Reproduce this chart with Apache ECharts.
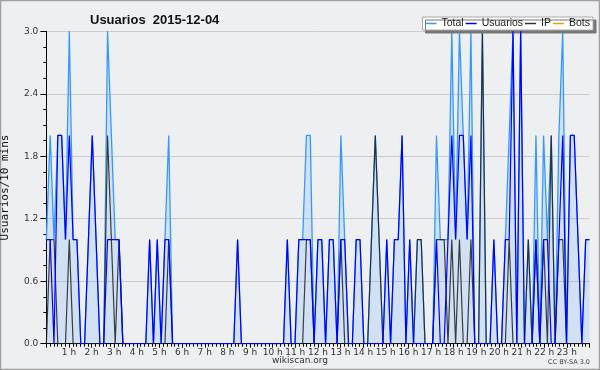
<!DOCTYPE html>
<html><head><meta charset="utf-8">
<script src="https://cdn.jsdelivr.net/npm/echarts@6/dist/echarts.min.js"></script>
<style>html,body{margin:0;padding:0;background:#eeeff1}#c{width:600px;height:370px}</style>
</head><body><div id="c"></div>
<script>
// one value per 10-minute slot (143 slots)
const usuarios = [1,1,0,2,2,1,2,1,1,0, 0,1,2,1,0,0,1,1,1,1, 0,0,0,0,0,0,0,1,0,1, 0,1,1,0,0,0,0,0,0,0,
  0,0,0,0,0,0,0,0,0,0, 1,0,0,0,0,0,0,0,0,0, 0,0,0,1,0,0,1,1,1,1, 0,1,1,0,1,1,0,1,1,0,
  0,1,1,0,0,0,0,0,0,1, 0,1,1,2,0,1,0,0,0,0, 0,0,1,0,0,1,2,1,2,2, 1,2,0,0,0,0,0,1,0,0,
  1,1,3,0,3,0,0,0,1,0, 1,1,0,0,1,2,0,2,2,1, 0,1,1];
const ip = [0,1,1,0,0,0,1,0,0,0, 0,0,0,0,0,0,2,1,0,1, 0,0,0,0,0,0,0,0,0,0, 0,0,1,0,0,0,0,0,0,0,
  0,0,0,0,0,0,0,0,0,0, 0,0,0,0,0,0,0,0,0,0, 0,0,0,0,0,0,0,0,1,1, 0,0,0,0,0,0,0,1,0,0,
  0,0,0,0,0,1,2,1,0,0, 0,0,0,0,0,0,0,1,1,0, 0,0,1,1,1,0,1,0,1,0, 0,1,0,0,3,0,0,0,0,0,
  0,1,0,0,0,0,1,0,1,0, 1,0,2,0,1,1,0,0,0,0, 0,0,0];
const bots = [0,0,0,0,0,0,0,0,0,0, 0,0,0,0,0,0,0,0,0,0, 0,0,0,0,0,0,0,0,0,0, 0,0,0,0,0,0,0,0,0,0,
  0,0,0,0,0,0,0,0,0,0, 0,0,0,0,0,0,0,0,0,0, 0,0,0,0,0,0,0,0,0,0, 0,0,0,0,0,0,0,0,0,0,
  0,0,0,0,0,0,0,0,0,0, 0,0,0,0,0,0,0,0,0,0, 0,0,0,0,0,0,0,0,0,0, 0,0,0,0,0,0,0,0,0,0,
  0,0,0,0,0,0,0,0,0,0, 0,0,0,0,0,0,0,0,0,0, 0,0,0];
const total = [1,2,1,2,2,1,3,1,1,0, 0,1,2,1,0,0,3,2,1,1, 0,0,0,0,0,0,0,1,0,1, 0,1,2,0,0,0,0,0,0,0,
  0,0,0,0,0,0,0,0,0,0, 1,0,0,0,0,0,0,0,0,0, 0,0,0,1,0,0,1,1,2,2, 0,1,1,0,1,1,0,2,1,0,
  0,1,1,0,0,1,2,1,0,1, 0,1,1,2,0,1,0,1,1,0, 0,0,2,1,1,1,3,1,3,2, 1,3,0,0,3,0,0,1,0,0,
  1,2,3,0,3,0,1,0,2,0, 2,1,2,0,2,3,0,2,2,1, 0,1,1];
const hourTicks = ['1 h','2 h','3 h','4 h','5 h','6 h','7 h','8 h','9 h','10 h','11 h','12 h',
  '13 h','14 h','15 h','16 h','17 h','18 h','19 h','20 h','21 h','22 h','23 h'];
const yTicks = ['0.0','0.6','1.2','1.8','2.4','3.0'];

const pts = a => a.map((v, i) => [i, v]);
const chart = echarts.init(document.getElementById('c'), null, {renderer: 'canvas'});
const small = {fontFamily: 'DejaVu Sans', fontSize: 9, color: '#333'};
chart.setOption({
  backgroundColor: '#eeeff1',
  animation: false,
  title: {text: 'Usuarios  2015-12-04', left: 85, top: 9,
    textStyle: {fontFamily: 'Liberation Sans', fontWeight: 'bold', fontSize: 13, color: '#111'}},
  legend: {data: ['Total', 'Usuarios', 'IP', 'Bots'], right: 7, top: 17, icon: 'rect',
    itemWidth: 11, itemHeight: 1.5, itemGap: 2, padding: [1, 3, 1, 3],
    backgroundColor: '#fff', borderColor: '#aaa', borderWidth: 1,
    shadowColor: '#777', shadowBlur: 0, shadowOffsetX: 3, shadowOffsetY: 3,
    textStyle: {fontFamily: 'Liberation Sans', fontSize: 10.5, color: '#222'}},
  grid: {left: 46.35, right: 10.5, top: 31.3, bottom: 26.3, outerBoundsMode: 'none', containLabel: false},
  xAxis: [
    {type: 'value', min: 0, max: total.length - 1, show: false},
    {type: 'value', min: 0, max: 24, interval: 1, position: 'bottom', z: 1,
      axisLine: {show: true, lineStyle: {color: '#000', width: 1}},
      axisTick: {show: true, length: 4, lineStyle: {color: '#000'}},
      minorTick: {show: true, splitNumber: 6, length: 3, lineStyle: {color: '#000'}},
      splitLine: {show: false},
      axisLabel: Object.assign({margin: 4, formatter: v => (v >= 1 && v <= 23) ? hourTicks[v - 1] : ''}, small)}
  ],
  yAxis: {type: 'value', min: 0, max: 3, interval: 0.6, name: 'Usuarios/10 mins',
    nameLocation: 'middle', nameGap: 36, nameRotate: 90,
    nameTextStyle: {fontFamily: 'DejaVu Sans Mono', fontSize: 11, color: '#111'},
    axisLine: {show: true, lineStyle: {color: '#000'}},
    axisTick: {show: true, length: 6, lineStyle: {color: '#000'}},
    minorTick: {show: true, splitNumber: 4, length: 3, lineStyle: {color: '#000'}},
    splitLine: {show: true, lineStyle: {color: '#cccccc', width: 1}},
    axisLabel: Object.assign({margin: 8, formatter: v => yTicks[Math.round(v / 0.6)]}, small)},
  series: [
    {name: 'Bots', type: 'line', data: pts(bots), showSymbol: false, z: 0,
      itemStyle: {color: '#ff9900'}, lineStyle: {width: 1.2, color: '#ff9900'}},
    {name: 'Total', type: 'line', data: pts(total), showSymbol: false, z: 2,
      itemStyle: {color: '#3399ff'}, lineStyle: {width: 1.3, color: '#3399ff'},
      areaStyle: {color: 'rgba(51,153,255,0.22)'}},
    {name: 'IP', type: 'line', data: pts(ip), showSymbol: false, z: 3,
      itemStyle: {color: '#333'}, lineStyle: {width: 1.2, color: 'rgba(30,30,30,0.85)'}},
    {name: 'Usuarios', type: 'line', data: pts(usuarios), showSymbol: false, z: 4,
      itemStyle: {color: '#0000ff'}, lineStyle: {width: 1.2, color: '#0000ff'}}
  ],
  graphic: [
    {type: 'rect', silent: true, shape: {x: 0.5, y: 0.5, width: 599, height: 369},
      style: {fill: 'none', stroke: '#a0a0a0', lineWidth: 1.5}},
    {type: 'text', left: 'center', top: 356, style: {text: 'wikiscan.org', font: '9px "DejaVu Sans"', fill: '#333'}},
    {type: 'text', right: 10, top: 359, style: {text: 'CC BY-SA 3.0', font: '6.5px "DejaVu Sans"', fill: '#444'}}
  ]
});
</script></body></html>
